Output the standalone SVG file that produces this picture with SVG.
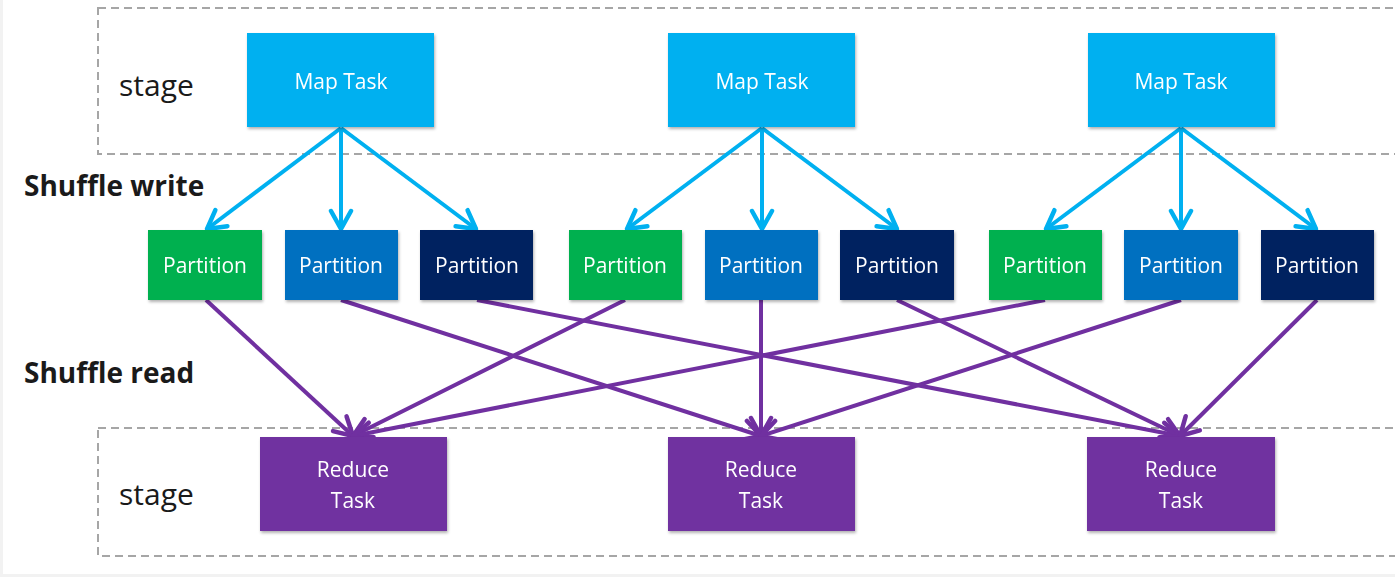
<svg xmlns="http://www.w3.org/2000/svg" width="1395" height="577" viewBox="0 0 1395 577">
<defs>
<style>
.stage{fill:none;stroke:#a6a6a6;stroke-width:2;stroke-dasharray:8,5}
.lbl{font-family:"Open Sans","Liberation Sans",sans-serif;fill:#1a1a1a}
.txt{font-family:"Open Sans","Liberation Sans",sans-serif;fill:#ffffff;font-size:21px;text-anchor:middle}
.map{fill:#00b0f0}
.green{fill:#00b050}
.blue{fill:#0070c0}
.navy{fill:#002060}
.reduce{fill:#7030a0}
.w{stroke:#00b0f0;stroke-width:4;fill:none;marker-end:url(#ab)}
.r{stroke:#7030a0;stroke-width:4;fill:none;marker-end:url(#ap)}
</style>
<filter id="sh" x="-10%" y="-10%" width="125%" height="130%">
<feDropShadow dx="1" dy="2" stdDeviation="1.5" flood-color="#000" flood-opacity="0.3"/>
</filter>
<marker id="ab" viewBox="0 0 26 26" refX="22" refY="13" markerWidth="26" markerHeight="26" markerUnits="userSpaceOnUse" orient="auto">
<path d="M4,3 L22,13 L4,23" fill="none" stroke="#00b0f0" stroke-width="4.5" stroke-linecap="round" stroke-linejoin="round"/>
</marker>
<marker id="ap" viewBox="0 0 26 26" refX="22" refY="13" markerWidth="26" markerHeight="26" markerUnits="userSpaceOnUse" orient="auto">
<path d="M4,3 L22,13 L4,23" fill="none" stroke="#7030a0" stroke-width="4.5" stroke-linecap="round" stroke-linejoin="round"/>
</marker>
</defs>
<rect x="0" y="0" width="1395" height="577" fill="#ffffff"/>
<rect x="0" y="0" width="3" height="577" fill="#f2f2f2"/>
<rect x="0" y="574" width="1395" height="3" fill="#f2f2f2"/>
<g id="stage-top">
<rect class="stage" x="98" y="8" width="1320" height="146"/>
<text class="lbl" x="119" y="96" font-size="30">stage</text>
</g>
<g id="stage-bottom">
<rect class="stage" x="98" y="428" width="1320" height="128"/>
<text class="lbl" x="119" y="505" font-size="30">stage</text>
</g>
<text class="lbl" x="24" y="196" font-size="28" font-weight="bold">Shuffle write</text>
<text class="lbl" x="24" y="383" font-size="28" font-weight="bold">Shuffle read</text>
<g id="connectors">
<line class="w" x1="341" y1="128" x2="207" y2="229"/>
<line class="w" x1="341" y1="128" x2="341" y2="229"/>
<line class="w" x1="341" y1="128" x2="476" y2="229"/>
<line class="w" x1="762" y1="128" x2="627" y2="229"/>
<line class="w" x1="762" y1="128" x2="762" y2="229"/>
<line class="w" x1="762" y1="128" x2="897" y2="229"/>
<line class="w" x1="1181" y1="128" x2="1046" y2="229"/>
<line class="w" x1="1181" y1="128" x2="1181" y2="229"/>
<line class="w" x1="1181" y1="128" x2="1316" y2="229"/>
<line class="r" x1="206" y1="300" x2="353" y2="436"/>
<line class="r" x1="625" y1="300" x2="353" y2="436"/>
<line class="r" x1="1045" y1="300" x2="353" y2="436"/>
<line class="r" x1="341" y1="300" x2="761" y2="436"/>
<line class="r" x1="761" y1="300" x2="761" y2="436"/>
<line class="r" x1="1181" y1="300" x2="761" y2="436"/>
<line class="r" x1="477" y1="300" x2="1180" y2="436"/>
<line class="r" x1="897" y1="300" x2="1180" y2="436"/>
<line class="r" x1="1317" y1="300" x2="1180" y2="436"/>
</g>
<g id="map1" filter="url(#sh)"><rect class="map" x="247" y="33" width="187" height="94"/><text class="txt" x="341" y="89">Map Task</text></g>
<g id="map2" filter="url(#sh)"><rect class="map" x="668" y="33" width="187" height="94"/><text class="txt" x="762" y="89">Map Task</text></g>
<g id="map3" filter="url(#sh)"><rect class="map" x="1088" y="33" width="187" height="94"/><text class="txt" x="1181" y="89">Map Task</text></g>
<g id="p1" filter="url(#sh)"><rect class="green" x="148" y="230" width="114" height="70"/><text class="txt" x="205" y="273">Partition</text></g>
<g id="p2" filter="url(#sh)"><rect class="blue" x="285" y="230" width="113" height="70"/><text class="txt" x="341" y="273">Partition</text></g>
<g id="p3" filter="url(#sh)"><rect class="navy" x="420" y="230" width="113" height="70"/><text class="txt" x="477" y="273">Partition</text></g>
<g id="p4" filter="url(#sh)"><rect class="green" x="569" y="230" width="113" height="70"/><text class="txt" x="625" y="273">Partition</text></g>
<g id="p5" filter="url(#sh)"><rect class="blue" x="705" y="230" width="113" height="70"/><text class="txt" x="761" y="273">Partition</text></g>
<g id="p6" filter="url(#sh)"><rect class="navy" x="840" y="230" width="114" height="70"/><text class="txt" x="897" y="273">Partition</text></g>
<g id="p7" filter="url(#sh)"><rect class="green" x="989" y="230" width="113" height="70"/><text class="txt" x="1045" y="273">Partition</text></g>
<g id="p8" filter="url(#sh)"><rect class="blue" x="1124" y="230" width="114" height="70"/><text class="txt" x="1181" y="273">Partition</text></g>
<g id="p9" filter="url(#sh)"><rect class="navy" x="1261" y="230" width="113" height="70"/><text class="txt" x="1317" y="273">Partition</text></g>
<g id="r1" filter="url(#sh)"><rect class="reduce" x="260" y="437" width="187" height="94"/><text class="txt" x="353" y="477">Reduce</text><text class="txt" x="353" y="508">Task</text></g>
<g id="r2" filter="url(#sh)"><rect class="reduce" x="668" y="437" width="187" height="94"/><text class="txt" x="761" y="477">Reduce</text><text class="txt" x="761" y="508">Task</text></g>
<g id="r3" filter="url(#sh)"><rect class="reduce" x="1087" y="437" width="188" height="94"/><text class="txt" x="1181" y="477">Reduce</text><text class="txt" x="1181" y="508">Task</text></g>
</svg>
